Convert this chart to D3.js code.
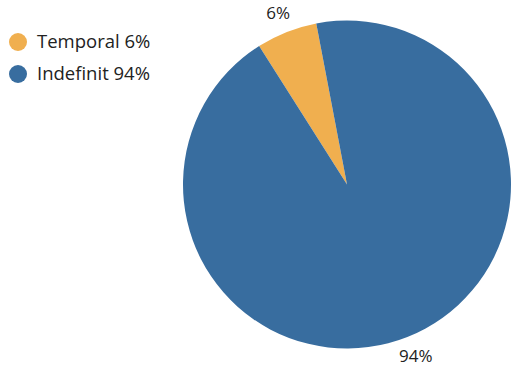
<!DOCTYPE html>
<html>
<head>
<meta charset="utf-8">
<script src="https://cdn.jsdelivr.net/npm/d3@7"></script>
<style>
  body { margin: 0; background: #fff; }
  text { font-family: "Open Sans", Lato, sans-serif; fill: #222; }
</style>
</head>
<body>
<div id="chart"></div>
<script>
const width = 512;
const height = 368;

// data
const categories = ["Temporal", "Indefinit"];
const values = [6, 94];
const colors = ["#F0AF4F", "#386D9F"];

const svg = d3.select("div#chart")
  .append("svg")
  .attr("width", width)
  .attr("height", height);

const cx = 347, cy = 184.5, radius = 164;
// pie starts slightly left of top
const offset = -32.4 * Math.PI / 180;

const pie = d3.pie()
  .sort(null)
  .startAngle(offset)
  .endAngle(offset + 2 * Math.PI);

const arc = d3.arc().innerRadius(0).outerRadius(radius);
const labelArc = d3.arc().innerRadius(187).outerRadius(187);

const g = svg.append("g").attr("transform", "translate(" + cx + "," + cy + ")");
const arcs = pie(values);

g.selectAll("path")
  .data(arcs)
  .enter()
  .append("path")
  .attr("d", arc)
  .attr("fill", function(d, i) { return colors[i]; });

g.selectAll("text.lbl")
  .data(arcs)
  .enter()
  .append("text")
  .attr("class", "lbl")
  .attr("transform", function(d) { return "translate(" + labelArc.centroid(d) + ")"; })
  .attr("text-anchor", "middle")
  // keep the bottom label inside the frame
  .attr("dy", function(d) { return labelArc.centroid(d)[1] > 0 ? "0.2em" : "0.5em"; })
  .style("font-size", "17px")
  .text(function(d) { return d.data + "%"; });

// legend
const legend = svg.append("g").selectAll("g")
  .data(categories)
  .enter()
  .append("g")
  .attr("transform", function(d, i) { return "translate(18," + (42 + i * 32) + ")"; });

legend.append("circle")
  .attr("r", 9)
  .attr("fill", function(d, i) { return colors[i]; });

legend.append("text")
  .attr("x", 19)
  .attr("dy", "0.35em")
  .style("font-size", "18.5px")
  .text(function(d, i) { return d + " " + values[i] + "%"; });
</script>
</body>
</html>
